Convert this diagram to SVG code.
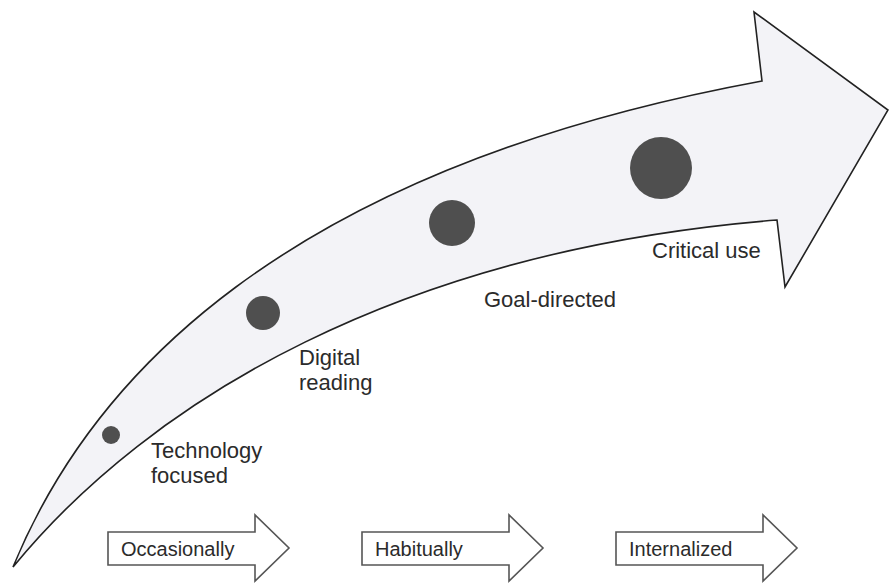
<svg xmlns="http://www.w3.org/2000/svg" width="889" height="583" viewBox="0 0 889 583">
<style>
.big{fill:#f3f3f7;stroke:#222;stroke-width:1.6;stroke-linejoin:miter}
.dot{fill:#4f4f4f}
.lbl{font-family:"Liberation Sans",Arial,sans-serif;font-size:22px;fill:#2b2b2b}
.small{font-family:"Liberation Sans",Arial,sans-serif;font-size:20px;fill:#2b2b2b}
.sarrow{fill:#fff;stroke:#555;stroke-width:1.6}
</style>
<rect width="889" height="583" fill="#fff"/>
<g id="main-arrow">
<path class="big" d="M13,567 C90,380 280,170 762,81 L754,12 L888,110 L785,287 L777,220 C400,250 150,400 13,567 Z"/>
</g>
<g id="technology-focused">
<circle class="dot" cx="111" cy="435" r="9"/>
<text class="lbl" x="151" y="458">Technology</text>
<text class="lbl" x="151" y="483">focused</text>
</g>
<g id="digital-reading">
<circle class="dot" cx="263" cy="313" r="17"/>
<text class="lbl" x="299" y="365">Digital</text>
<text class="lbl" x="299" y="390">reading</text>
</g>
<g id="goal-directed">
<circle class="dot" cx="452" cy="223" r="23"/>
<text class="lbl" x="484" y="307">Goal-directed</text>
</g>
<g id="critical-use">
<circle class="dot" cx="661" cy="168" r="31"/>
<text class="lbl" x="652" y="258">Critical use</text>
</g>
<g id="occasionally">
<polygon class="sarrow" points="108,532 255,532 255,515 289,548 255,581 255,565 108,565"/>
<text class="small" x="121" y="556">Occasionally</text>
</g>
<g id="habitually">
<polygon class="sarrow" points="362,532 509,532 509,515 543,548 509,581 509,565 362,565"/>
<text class="small" x="375" y="556">Habitually</text>
</g>
<g id="internalized">
<polygon class="sarrow" points="616,532 763,532 763,515 797,548 763,581 763,565 616,565"/>
<text class="small" x="629" y="556">Internalized</text>
</g>
<g id="connectors"></g>
</svg>
